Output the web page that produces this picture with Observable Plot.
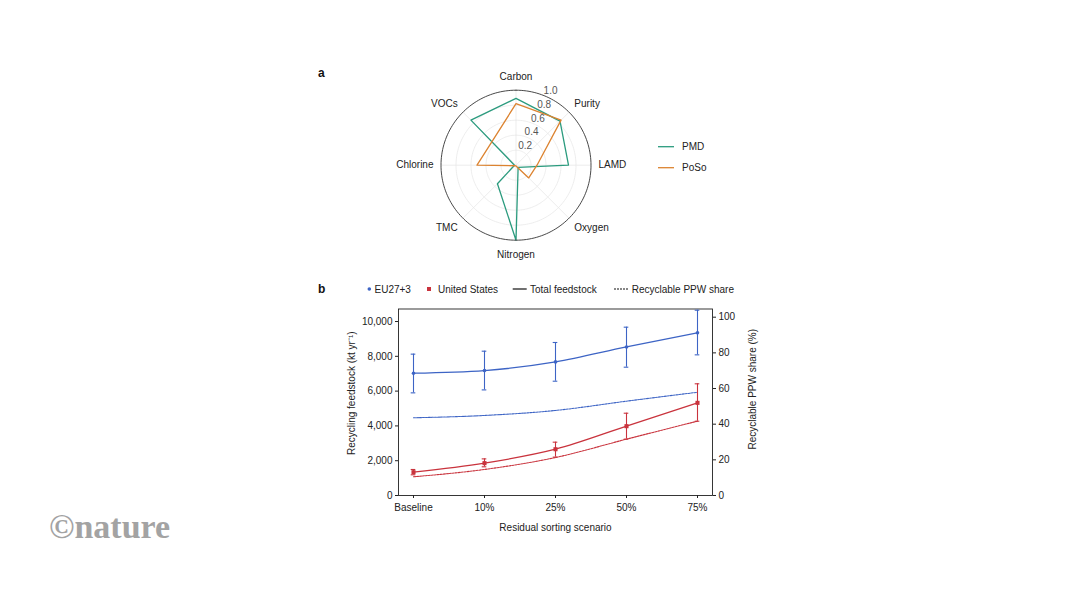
<!DOCTYPE html>
<html><head><meta charset="utf-8">
<script src="https://cdn.jsdelivr.net/npm/d3@7"></script>
<script src="https://cdn.jsdelivr.net/npm/@observablehq/plot@0.6"></script>
<style>
html,body{margin:0;padding:0;background:#fff;}
body{width:1066px;height:600px;position:relative;overflow:hidden;font-family:"Liberation Sans",Arial,sans-serif;}
#radar{position:absolute;left:380px;top:55px;}
#lines{position:absolute;left:330px;top:300px;}
#overlay{position:absolute;left:0;top:0;pointer-events:none;}
</style></head><body>
<div id="radar"></div>
<div id="lines"></div>
<svg id="overlay" width="1066" height="600" font-family="Liberation Sans, Arial, sans-serif"></svg>
<script>
// ---------- data (panel a) ----------
const radarAxes = ["Carbon", "Purity", "LAMD", "Oxygen", "Nitrogen", "TMC", "Chlorine", "VOCs"];
const pmdValues = [0.89, 0.83, 0.70, 0.04, 1.00, 0.35, 0.02, 0.85];
const posoValues = [0.82, 0.85, 0.28, 0.24, 0.01, 0.01, 0.52, 0.45];
const radialTicks = [0.2, 0.4, 0.6, 0.8, 1.0];
const radarSeries = ["PMD", "PoSo"];

// ---------- data (panel b) ----------
const scenarios = ["Baseline", "10%", "25%", "50%", "75%"];
const euTotal = [7030, 7180, 7680, 8540, 9350];
const euLow = [5900, 6070, 6570, 7375, 8085];
const euHigh = [8125, 8295, 8795, 9675, 10650];
const usTotal = [1340, 1860, 2660, 3985, 5325];
const usLow = [1190, 1650, 2205, 3240, 4270];
const usHigh = [1495, 2105, 3065, 4730, 6420];
const euShare = [43.6, 44.9, 47.7, 52.9, 57.9];
const usShare = [10.5, 14.6, 21.3, 31.6, 41.7];
const feedTicks = [0, 2000, 4000, 6000, 8000, 10000];
const shareTicks = [0, 20, 40, 60, 80, 100];
const feedMax = 10720;
const shareMax = 104.6;

const green = "#2b9b7e", orange = "#dc8330", blue = "#3d64c5", red = "#c9333d";
const font = "Liberation Sans, Arial, sans-serif";

// ---------- panel a: radar ----------
const RPX = 75, cx = 135.5, cy = 109.7;
const ang = i => i * 2 * Math.PI / radarAxes.length;
const polar = (v, i) => ({x: v * Math.sin(ang(i)), y: v * Math.cos(ang(i))});
const seriesVals = [pmdValues, posoValues];
const radarPts = radarSeries.flatMap((s, k) => seriesVals[k].map((v, i) => ({series: s, axis: radarAxes[i], value: v, ...polar(v, i)})));
const ringPts = radialTicks.flatMap(t => d3.range(0, 361, 2).map(a => ({ring: t, x: t * Math.sin(a * Math.PI / 180), y: t * Math.cos(a * Math.PI / 180)})));
const spokes = radarAxes.map((a, i) => ({axis: a, ...polar(1, i)}));
const labelPts = radarAxes.map((a, i) => {
  const s = Math.sin(ang(i)), c = Math.cos(ang(i));
  const p = polar(Math.abs(s) < 0.1 ? 1.14 : 1.1, i);
  return {label: a, ...p, h: s > 0.1 ? "start" : s < -0.1 ? "end" : "middle", v: c > 0.1 ? "bottom" : c < -0.1 ? "top" : "middle"};
});
const tickAng = 25 * Math.PI / 180;
const tickLabels = radialTicks.map(t => ({t, x: (t + 0.09) * Math.sin(tickAng), y: (t + 0.09) * Math.cos(tickAng)}));

const labelMarks = [];
for (const h of ["start", "middle", "end"]) for (const v of ["top", "middle", "bottom"]) {
  const sub = labelPts.filter(d => d.h === h && d.v === v);
  if (sub.length) labelMarks.push(Plot.text(sub, {x: "x", y: "y", text: "label", textAnchor: h, lineAnchor: v, fill: "#222", fontSize: 10}));
}

const radar = Plot.plot({
  width: 360, height: 220, margin: 0,
  x: {domain: [-1, 1], range: [cx - RPX, cx + RPX], axis: null},
  y: {domain: [-1, 1], range: [cy + RPX, cy - RPX], axis: null},
  color: {domain: radarSeries, range: [green, orange]},
  style: {fontFamily: font, fontSize: "10px", background: "transparent", overflow: "visible"},
  marks: [
    Plot.line(ringPts.filter(d => d.ring < 1), {x: "x", y: "y", z: "ring", stroke: "#e8e8e8", strokeWidth: 0.8}),
    Plot.link(spokes, {x1: 0, y1: 0, x2: "x", y2: "y", stroke: "#e8e8e8", strokeWidth: 0.8}),
    Plot.line(radarPts, {x: "x", y: "y", z: "series", stroke: "series", curve: "linear-closed", strokeWidth: 1.3}),
    Plot.line(ringPts.filter(d => d.ring === 1), {x: "x", y: "y", stroke: "#333", strokeWidth: 0.9}),
    Plot.text(tickLabels, {x: "x", y: "y", text: d => d.t.toFixed(1), fill: "#555", fontSize: 10}),
    ...labelMarks
  ]
});
document.getElementById("radar").append(radar);

// ---------- panel b: lines ----------
const k = feedMax / shareMax;
const rows = scenarios.map((s, i) => ({
  scenario: s, euTotal: euTotal[i], euLow: euLow[i], euHigh: euHigh[i],
  usTotal: usTotal[i], usLow: usLow[i], usHigh: usHigh[i],
  euShare: euShare[i] * k, usShare: usShare[i] * k
}));

const cap = (y, color) => Plot.ruleY(rows, {x1: "scenario", x2: "scenario", y, stroke: color, strokeWidth: 1.1, insetLeft: -2.3, insetRight: -2.3});

const lines = Plot.plot({
  width: 430, height: 245, marginLeft: 68, marginRight: 48, marginTop: 8.5, marginBottom: 50,
  x: {type: "point", domain: scenarios, padding: 0.21},
  y: {domain: [0, feedMax]},
  style: {fontFamily: font, fontSize: "10px", background: "transparent", overflow: "visible", color: "#222"},
  marks: [
    Plot.axisY({ticks: feedTicks, tickFormat: d3.format(","), tickSize: 3, tickPadding: 3, label: null}),
    Plot.axisY({anchor: "right", ticks: shareTicks.map(v => v * k), tickFormat: d => String(Math.round(d / k)), tickSize: 3, tickPadding: 3, label: null}),
    Plot.axisX({tickSize: 3, tickPadding: 5, label: null}),
    Plot.frame({stroke: "#222", strokeWidth: 0.9}),
    Plot.line(rows, {x: "scenario", y: "euShare", stroke: blue, strokeWidth: 1.1, strokeDasharray: "2,1", curve: "monotone-x"}),
    Plot.line(rows, {x: "scenario", y: "usShare", stroke: red, strokeWidth: 1.1, strokeDasharray: "2,1", curve: "monotone-x"}),
    Plot.line(rows, {x: "scenario", y: "euTotal", stroke: blue, strokeWidth: 1.3, curve: "monotone-x"}),
    Plot.line(rows, {x: "scenario", y: "usTotal", stroke: red, strokeWidth: 1.3, curve: "monotone-x"}),
    Plot.ruleX(rows, {x: "scenario", y1: "euLow", y2: "euHigh", stroke: blue, strokeWidth: 1.1}),
    cap("euLow", blue), cap("euHigh", blue),
    Plot.ruleX(rows, {x: "scenario", y1: "usLow", y2: "usHigh", stroke: red, strokeWidth: 1.1}),
    cap("usLow", red), cap("usHigh", red),
    Plot.dot(rows, {x: "scenario", y: "euTotal", r: 1.8, fill: blue}),
    Plot.dot(rows, {x: "scenario", y: "usTotal", symbol: "square", r: 2.3, fill: red}),
    Plot.text(["Residual sorting scenario"], {frameAnchor: "bottom", dy: 32, text: d => d, textAnchor: "middle", lineAnchor: "middle", fontSize: 10}),
    Plot.text(["Recycling feedstock (kt yr\u207B\u00B9)"], {frameAnchor: "left", rotate: -90, dx: -47, dy: -9, text: d => d, textAnchor: "middle", lineAnchor: "middle", fontSize: 10}),
    Plot.text(["Recyclable PPW share (%)"], {frameAnchor: "right", rotate: -90, dx: 40, dy: -13, text: d => d, textAnchor: "middle", lineAnchor: "middle", fontSize: 10})
  ]
});
document.getElementById("lines").append(lines);

// ---------- labels, legends, logo ----------
const ov = d3.select("#overlay");
ov.append("text").attr("x", 318).attr("y", 77).attr("font-size", 12).attr("font-weight", "bold").attr("fill", "#111").text("a");
ov.append("text").attr("x", 318).attr("y", 293).attr("font-size", 12).attr("font-weight", "bold").attr("fill", "#111").text("b");

const radarLegend = [{name: radarSeries[0], color: green, y: 146.7}, {name: radarSeries[1], color: orange, y: 167.7}];
for (const d of radarLegend) {
  ov.append("line").attr("x1", 658).attr("x2", 674).attr("y1", d.y).attr("y2", d.y).attr("stroke", d.color).attr("stroke-width", 1.3);
  ov.append("text").attr("x", 682).attr("y", d.y).attr("dy", "0.35em").attr("font-size", 10).attr("fill", "#222").text(d.name);
}

const ly = 289;
ov.append("circle").attr("cx", 369.3).attr("cy", ly).attr("r", 1.8).attr("fill", blue);
ov.append("text").attr("x", 374.5).attr("y", ly).attr("dy", "0.35em").attr("font-size", 10).attr("fill", "#222").text("EU27+3");
ov.append("rect").attr("x", 427).attr("y", ly - 2).attr("width", 4).attr("height", 4).attr("fill", red);
ov.append("text").attr("x", 438).attr("y", ly).attr("dy", "0.35em").attr("font-size", 10).attr("fill", "#222").text("United States");
ov.append("line").attr("x1", 512.7).attr("x2", 526.7).attr("y1", ly).attr("y2", ly).attr("stroke", "#111").attr("stroke-width", 1.2);
ov.append("text").attr("x", 530).attr("y", ly).attr("dy", "0.35em").attr("font-size", 10).attr("fill", "#222").text("Total feedstock");
ov.append("line").attr("x1", 614).attr("x2", 628.3).attr("y1", ly).attr("y2", ly).attr("stroke", "#111").attr("stroke-width", 1.1).attr("stroke-dasharray", "2,1");
ov.append("text").attr("x", 631.7).attr("y", ly).attr("dy", "0.35em").attr("font-size", 10).attr("fill", "#222").text("Recyclable PPW share");

ov.append("text").attr("x", 49).attr("y", 538).attr("font-size", 34).attr("font-weight", "bold")
  .attr("font-family", "Liberation Serif, DejaVu Serif, serif").attr("fill", "#a3a3a3").text("\u00A9nature");
</script>
</body></html>
